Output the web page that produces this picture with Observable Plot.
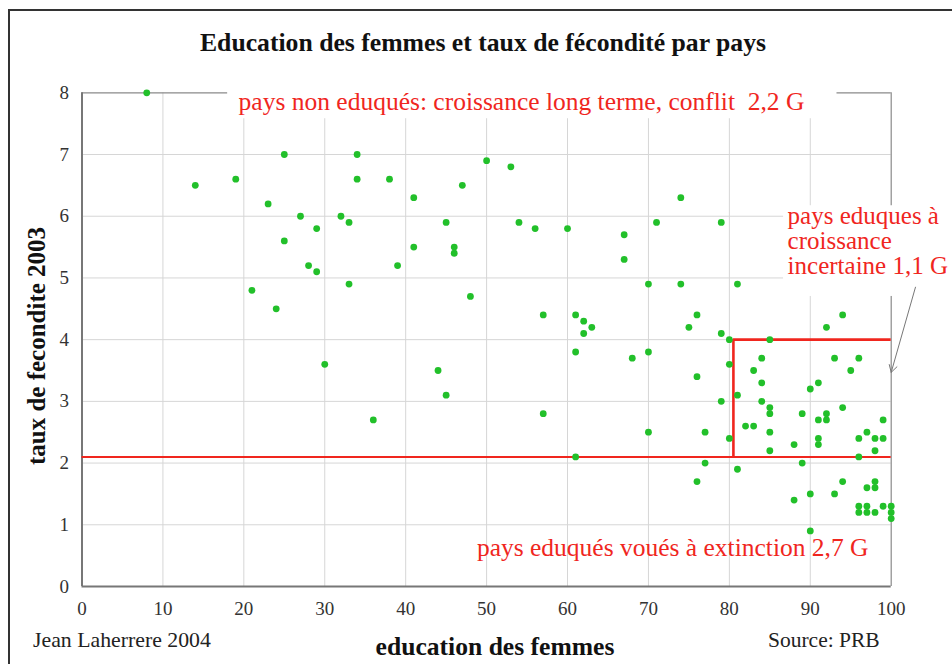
<!DOCTYPE html>
<html>
<head>
<meta charset="utf-8">
<script src="https://cdn.jsdelivr.net/npm/d3@7"></script>
<script src="https://cdn.jsdelivr.net/npm/@observablehq/plot@0.6"></script>
<style>
  html, body { margin: 0; padding: 0; background: #fff; }
  #page { position: relative; width: 952px; height: 664px; overflow: hidden; background: #fff; font-family: "Liberation Serif", "DejaVu Serif", serif; }
  #frame { position: absolute; left: 8px; top: 9px; width: 960px; height: 680px; border-left: 2px solid #333; border-top: 2px solid #333; }
  .t { position: absolute; white-space: nowrap; color: #222; }
  #title { left: 483px; top: 28px; transform: translateX(-50%); font-weight: bold; font-size: 25.7px; line-height: 30px; color: #111; }
  #chart { position: absolute; left: 0; top: 70px; }
  #chart svg text { font-family: "Liberation Serif", serif; }
  #xlabel { left: 495px; top: 632px; transform: translateX(-50%); font-weight: bold; font-size: 25.6px; line-height: 30px; color: #111; }
  #ylabel { left: 37px; top: 346px; transform: translate(-50%, -50%) rotate(-90deg); font-weight: bold; font-size: 25px; line-height: 30px; color: #111; }
  #author { left: 33px; top: 627px; font-size: 21.8px; line-height: 26px; }
  #source { left: 768px; top: 627px; font-size: 21.5px; line-height: 26px; }
</style>
</head>
<body>
<div id="page">
  <div id="frame"></div>
  <div class="t" id="title">Education des femmes et taux de fécondité par pays</div>
  <div id="chart"></div>
  <div class="t" id="ylabel">taux de fecondite 2003</div>
  <div class="t" id="xlabel">education des femmes</div>
  <div class="t" id="author">Jean Laherrere 2004</div>
  <div class="t" id="source">Source: PRB</div>
</div>
<script>
// education des femmes (%), per country
const education = [
  8, 14, 19, 21, 23, 24, 25, 25, 27, 28, 29, 29, 30, 32, 33, 33, 34, 34, 36, 38,
  39, 41, 41, 44, 45, 45, 46, 46, 47, 48, 50, 53, 54, 56, 57, 57, 60, 61, 61, 61,
  62, 62, 63, 67, 67, 68, 70, 70, 70, 71, 74, 74, 75, 76, 76, 76, 77, 77, 79, 79,
  79, 80, 80, 80, 81, 81, 81, 82, 83, 83, 84, 84, 84, 85, 85, 85, 85, 85, 88, 88,
  89, 89, 90, 90, 90, 91, 91, 91, 91, 92, 92, 92, 93, 93, 94, 94, 94, 95, 96, 96,
  96, 96, 96, 97, 97, 97, 97, 98, 98, 98, 98, 98, 99, 99, 99, 100, 100, 100
];
// taux de fecondite 2003, same order
const fertility = [
  8.0, 6.5, 6.6, 4.8, 6.2, 4.5, 7.0, 5.6, 6.0, 5.2, 5.8, 5.1, 3.6, 6.0, 5.9, 4.9, 7.0, 6.6, 2.7, 6.6,
  5.2, 6.3, 5.5, 3.5, 5.9, 3.1, 5.5, 5.4, 6.5, 4.7, 6.9, 6.8, 5.9, 5.8, 4.4, 2.8, 5.8, 4.4, 3.8, 2.1,
  4.3, 4.1, 4.2, 5.7, 5.3, 3.7, 4.9, 3.8, 2.5, 5.9, 6.3, 4.9, 4.2, 4.4, 3.4, 1.7, 2.5, 2.0, 5.9, 4.1,
  3.0, 4.0, 3.6, 2.4, 4.9, 3.1, 1.9, 2.6, 3.5, 2.6, 3.7, 3.3, 3.0, 4.0, 2.9, 2.8, 2.5, 2.2, 2.3, 1.4,
  2.8, 2.0, 3.2, 1.5, 0.9, 3.3, 2.7, 2.4, 2.3, 4.2, 2.8, 2.7, 3.7, 1.5, 4.4, 2.9, 1.7, 3.5, 3.7, 2.4,
  2.1, 1.3, 1.2, 2.5, 1.6, 1.3, 1.2, 2.4, 2.2, 1.7, 1.6, 1.2, 2.7, 2.4, 1.3, 1.3, 1.2, 1.1
];
const xTicks = [0, 10, 20, 30, 40, 50, 60, 70, 80, 90, 100];
const yTicks = [0, 1, 2, 3, 4, 5, 6, 7, 8];

// thresholds drawn in red
const replacementRate = 2.1;   // horizontal line across the chart
const educatedFrom = 80.5;     // left side of the box
const boxTop = 4.0;            // top of the box

// annotations (data coordinates)
const noteTop = {text: "pays non eduqués: croissance long terme, conflit\u00a0 2,2 G", x: 19.35, y: 7.86};
const noteRight = {text: "pays eduques à\ncroissance\nincertaine 1,1 G", x: 87.2, y: 5.6};
const noteBottom = {text: "pays eduqués voués à extinction 2,7 G", x: 48.8, y: 0.62};
const maskTop = {x1: 18.0, x2: 93.3, y1: 7.58, y2: 8.06};
const maskRight = {x1: 86.7, x2: 116, y1: 4.7, y2: 6.17};
const arrowNote = {x1: 103, y1: 4.85, x2: 100, y2: 3.47};

const points = education.map((x, i) => ({x, y: fertility[i]}));

const red = "#f0261e";
const serif = "Liberation Serif, serif";
const chart = Plot.plot({
  width: 952,
  height: 594,
  marginLeft: 81.5,
  marginRight: 61.3,
  marginTop: 22.3,
  marginBottom: 78,
  x: {domain: [0, 100]},
  y: {domain: [0, 8]},
  style: {fontFamily: serif, background: "transparent", overflow: "visible"},
  marks: [
    Plot.gridX(xTicks.slice(1, -1), {stroke: "#d6d6d6", strokeOpacity: 1}),
    Plot.gridY(yTicks.slice(1, -1), {stroke: "#d6d6d6", strokeOpacity: 1}),
    Plot.ruleY([8], {stroke: "#8a8a8a", strokeWidth: 1.2}),
    Plot.ruleX([100], {stroke: "#8a8a8a", strokeWidth: 1.2}),
    Plot.ruleX([0], {stroke: "#777", strokeWidth: 2}),
    Plot.ruleY([0], {stroke: "#777", strokeWidth: 2}),
    Plot.rect([maskTop, maskRight], {x1: "x1", x2: "x2", y1: "y1", y2: "y2", fill: "white", clip: false}),
    Plot.ruleY([replacementRate], {x1: 0, x2: 100, stroke: red, strokeWidth: 2}),
    Plot.ruleX([educatedFrom], {y1: replacementRate, y2: boxTop, stroke: red, strokeWidth: 2.6}),
    Plot.ruleY([boxTop], {x1: educatedFrom, x2: 100, stroke: red, strokeWidth: 2.6}),
    Plot.dot(points, {x: "x", y: "y", r: 3.4, fill: "#22c02a", stroke: "none"}),
    Plot.arrow([arrowNote], {x1: "x1", y1: "y1", x2: "x2", y2: "y2", stroke: "#777", strokeWidth: 1, headLength: 12, bend: 0}),
    Plot.text([noteTop], {x: "x", y: "y", text: "text", textAnchor: "start", fontSize: 25.5, fontFamily: serif, fill: red}),
    Plot.text([noteRight], {x: "x", y: "y", text: "text", textAnchor: "start", lineAnchor: "middle", lineHeight: 1.0, fontSize: 25, fontFamily: serif, fill: red}),
    Plot.text([noteBottom], {x: "x", y: "y", text: "text", textAnchor: "start", fontSize: 25.5, fontFamily: serif, fill: red}),
    Plot.axisX(xTicks, {tickSize: 0, tickPadding: 15, fontSize: 19, fontFamily: serif, tickFormat: d => String(d), color: "#333", label: null}),
    Plot.axisY(yTicks, {tickSize: 0, tickPadding: 13, fontSize: 19, fontFamily: serif, tickFormat: d => String(d), color: "#333", label: null})
  ]
});
document.getElementById("chart").appendChild(chart);
</script>
</body>
</html>
